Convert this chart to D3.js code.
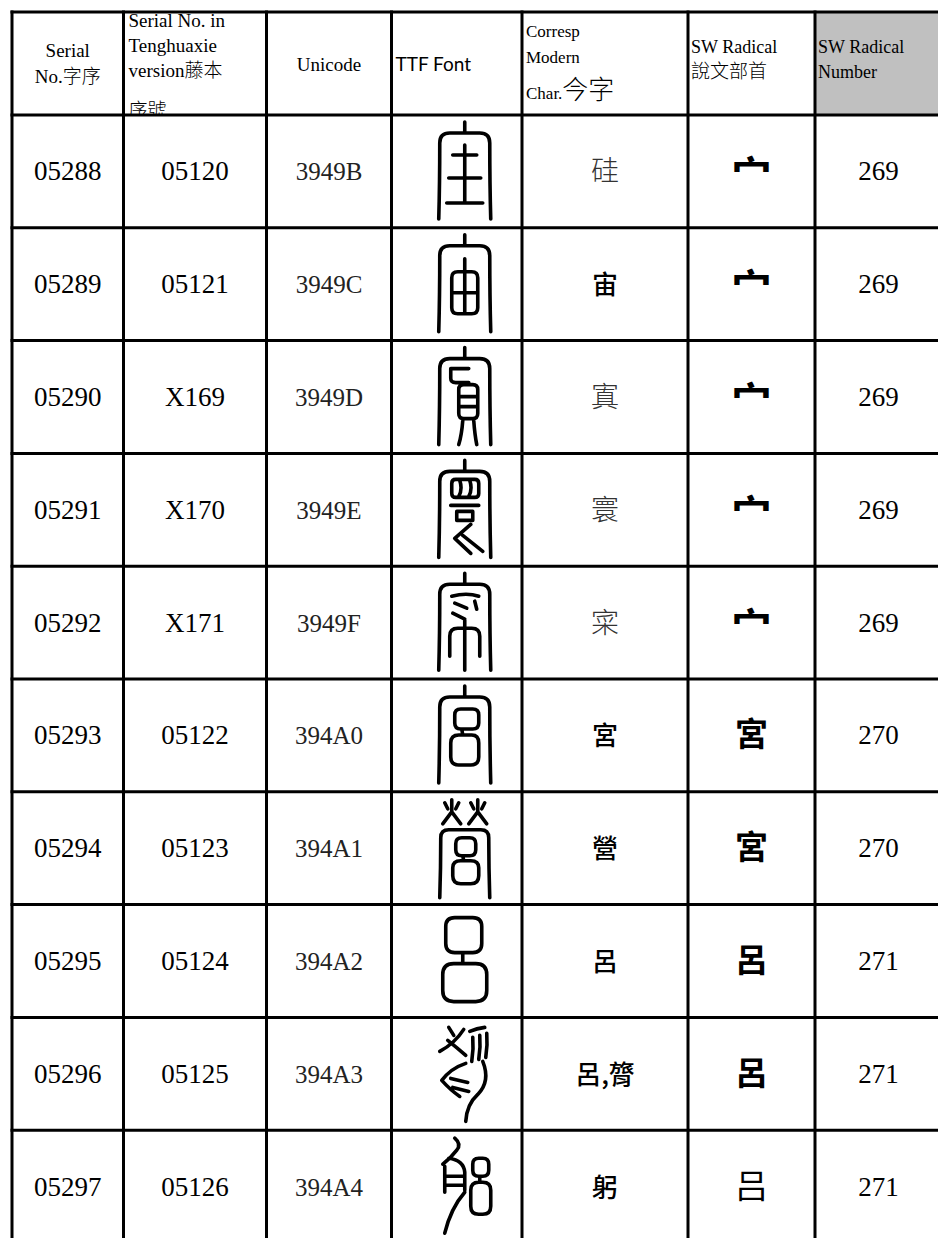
<!DOCTYPE html>
<html>
<head>
<meta charset="utf-8">
<script src="https://cdn.jsdelivr.net/npm/d3@7"></script>
<style>
  html, body { margin: 0; padding: 0; background: #fff; }
  svg { display: block; }
</style>
</head>
<body>
<svg id="chart" width="938" height="1238"></svg>
<script>
// ---------------- DATA ----------------
const serials = ["05288","05289","05290","05291","05292","05293","05294","05295","05296","05297"];
const tengNos = ["05120","05121","X169","X170","X171","05122","05123","05124","05125","05126"];
const unicodes = ["3949B","3949C","3949D","3949E","3949F","394A0","394A1","394A2","394A3","394A4"];
const modernChars = ["硅","宙","寘","寰","寀","宮","營","呂","呂,膂","躬"];
const radicals = ["宀","宀","宀","宀","宀","宮","宮","呂","呂","吕"];
const radicalNumbers = ["269","269","269","269","269","270","270","271","271","271"];

// Seal-script outlines of the TTF font glyphs (local 56 x 100 glyph box), keyed by code point
const ROOF = "M28,1 V11 M2,98 Q3,62 3,22 Q3,12 13,12 H43 Q53,12 53,22 Q53,62 54,98";
const sealGlyphs = {
  "3949B": ROOF + " M16,34 H40 M28,24 V82 M12,57 H44 M10,82 H46",
  "3949C": ROOF + " M15,44 Q15,38 21,38 H35 Q41,38 41,44 V74 Q41,80 35,80 H21 Q15,80 15,74 Z M28,25 V80 M15,59 H41",
  "3949D": ROOF + " M14,22 H32 M14,22 V32 Q14,36 19,36 H32 M22,43 Q22,38 27,38 H36 Q41,38 41,43 V67 Q41,72 36,72 H27 Q22,72 22,67 Z M22,50 H41 M22,60 H41 M26,74 Q25,88 22,98 M37,74 Q38,88 40,98",
  "3949E": ROOF + " M15,24 Q15,20 19,20 H38 Q42,20 42,24 V34 Q42,38 38,38 H19 Q15,38 15,34 Z M23,21 Q26,30 22,37 M33,21 Q36,30 32,37 M14,46 H42 M20,52 H36 V61 H20 Z M34,65 L18,79 L34,94 M26,76 Q36,84 46,92",
  "3949F": ROOF + " M15,24 Q30,20 42,24 M18,31 L30,36 M38,29 L40,37 M16,41 L28,47 M28,48 V98 M13,84 V64 Q13,56 21,56 H35 Q43,56 43,64 V84",
  "394A0": ROOF + " M18,30 Q18,24 24,24 H36 Q42,24 42,30 V38 Q42,44 36,44 H24 Q18,44 18,38 Z M25,44 L26,50 M14,58 Q14,50 22,50 H35 Q42,50 42,58 V72 Q42,80 34,80 H22 Q14,80 14,72 Z",
  "394A1": "M15,2 V14 M8,5 L11,11 M22,5 L19,11 M15,14 L6,26 M15,14 L24,26 M41,2 V14 M34,5 L37,11 M48,5 L45,11 M41,14 L32,26 M41,14 L50,26 M3,100 Q4,70 4,40 Q4,32 12,32 H44 Q52,32 52,40 Q52,70 53,100 M19,46 Q19,40 25,40 H33 Q39,40 39,46 V52 Q39,58 33,58 H25 Q19,58 19,52 Z M26,58 L27,63 M16,70 Q16,63 24,63 H34 Q42,63 42,70 V78 Q42,86 34,86 H24 Q16,86 16,78 Z",
  "394A2": "M9,16 Q9,7 18,7 H36 Q45,7 45,16 V33 Q45,42 36,42 H18 Q9,42 9,33 Z M26,42 V53 M6,64 Q6,53 17,53 H39 Q50,53 50,64 V80 Q50,91 39,91 H17 Q6,91 6,80 Z",
  "394A3": "M12,4 L17,12 M3,28 Q18,20 27,6 M11,17 Q21,25 29,32 M33,8 Q40,5 48,4 M36,14 Q37,26 35,38 M43,12 Q44,24 42,36 M50,10 Q51,22 49,34 M29,40 Q14,45 5,57 Q14,67 23,73 M14,55 L31,59 M16,64 L32,68 M46,38 Q54,58 41,71 Q30,81 29,98",
  "394A4": "M18,2 Q25,8 20,14 Q14,22 6,28 M12,22 Q27,24 28,36 V54 M8,30 V56 M8,40 H28 M8,49 H28 M28,56 Q14,72 8,97 M36,28 Q36,22 42,22 H46 Q52,22 52,28 V34 Q52,40 46,40 H42 Q36,40 36,34 Z M43,40 V46 M34,54 Q34,46 42,46 H46 Q54,46 54,54 V70 Q54,78 46,78 H42 Q34,78 34,70 Z"
};

// ---------------- LAYOUT ----------------
const colEdges = [12, 123.5, 266.5, 391.5, 522, 688, 815, 942];
const tableTop = 12, headerBottom = 115, tableBottom = 1243;
const SERIF = "'Liberation Serif','Times New Roman',serif";
const CJK = "'Noto Sans CJK TC','Noto Sans CJK SC',sans-serif";
const SANS = "Lato,'Liberation Sans',sans-serif";

const svg = d3.select("#chart");
const rows = d3.range(serials.length);
const y = d3.scaleBand().domain(rows).range([headerBottom, tableBottom]).paddingInner(0).paddingOuter(0);
const x = d3.scaleOrdinal().domain(d3.range(colEdges.length)).range(colEdges);
const colCenter = i => (x(i) + x(i + 1)) / 2;

svg.append("rect").attr("width", 938).attr("height", 1238).attr("fill", "#fff");

// gray header cell
svg.append("rect")
  .attr("x", x(6)).attr("y", tableTop)
  .attr("width", x(7) - x(6)).attr("height", headerBottom - tableTop)
  .attr("fill", "#c0c0c0");

// ---------------- HEADER ----------------
const hdr = svg.append("g").attr("class", "header");
svg.append("defs").append("clipPath").attr("id", "clip2")
  .append("rect").attr("x", x(1)).attr("y", tableTop).attr("width", x(2) - x(1)).attr("height", headerBottom - tableTop);

function headerText(lines, xpos, anchor, clip) {
  const t = hdr.append("text").attr("text-anchor", anchor).attr("fill", "#000");
  if (clip) t.attr("clip-path", "url(#" + clip + ")");
  lines.forEach(line => {
    const tl = t.append("tspan").attr("x", xpos).attr("y", line.y);
    line.parts.forEach(p => {
      tl.append("tspan")
        .attr("font-family", p.cjk ? CJK : (p.sans ? SANS : SERIF))
        .attr("font-size", p.size || 19)
        .attr("font-weight", p.cjk ? 300 : 400)
        .text(p.t);
    });
  });
}
headerText([{y: 57, parts: [{t: "Serial"}]}, {y: 83, parts: [{t: "No."}, {t: "字序", cjk: true}]}], colCenter(0), "middle");
headerText([
  {y: 27, parts: [{t: "Serial No. in"}]},
  {y: 52, parts: [{t: "Tenghuaxie"}]},
  {y: 77, parts: [{t: "version"}, {t: "藤本", cjk: true}]},
  {y: 117, parts: [{t: "序號", cjk: true}]}
], x(1) + 5, "start", "clip2");
headerText([{y: 71, parts: [{t: "Unicode"}]}], colCenter(2), "middle");
headerText([{y: 71, parts: [{t: "TTF Font", sans: true, size: 19}]}], x(3) + 4, "start");
headerText([
  {y: 37, parts: [{t: "Corresp", size: 17}]},
  {y: 63, parts: [{t: "Modern", size: 17}]},
  {y: 99, parts: [{t: "Char.", size: 17}, {t: "今字", cjk: true, size: 26}]}
], x(4) + 4, "start");
headerText([{y: 53, parts: [{t: "SW Radical", size: 18}]}, {y: 78, parts: [{t: "說文部首", cjk: true}]}], x(5) + 3, "start");
headerText([{y: 53, parts: [{t: "SW Radical", size: 18}]}, {y: 78, parts: [{t: "Number", size: 18}]}], x(6) + 3, "start");

// ---------------- BODY ----------------
const body = svg.append("g").attr("class", "body");
const rowG = body.selectAll("g.row").data(rows).join("g").attr("class", "row")
  .attr("transform", i => `translate(0,${y(i)})`);
const mid = y.bandwidth() / 2;

rowG.append("text").attr("x", colCenter(0)).attr("y", mid + 9)
  .attr("text-anchor", "middle").attr("font-family", SERIF).attr("font-size", 27)
  .text(i => serials[i]);
rowG.append("text").attr("x", colCenter(1)).attr("y", mid + 9)
  .attr("text-anchor", "middle").attr("font-family", SERIF).attr("font-size", 27)
  .text(i => tengNos[i]);
rowG.append("text").attr("x", colCenter(2)).attr("y", mid + 9)
  .attr("text-anchor", "middle").attr("font-family", SERIF).attr("font-size", 25).attr("fill", "#222")
  .text(i => unicodes[i]);

// seal glyphs
rowG.append("path")
  .attr("transform", `translate(${colCenter(3) + 8 - 28},6)`)
  .attr("d", i => sealGlyphs[unicodes[i]])
  .attr("fill", "none").attr("stroke", "#000").attr("stroke-width", 3.6)
  .attr("stroke-linecap", "round").attr("stroke-linejoin", "round");

const thinModern = new Set(["硅","寘","寰","寀"]);
rowG.append("text").attr("x", colCenter(4)).attr("y", mid + 10)
  .attr("text-anchor", "middle").attr("font-family", CJK)
  .attr("font-size", i => thinModern.has(modernChars[i]) ? 28 : 26)
  .attr("font-weight", i => thinModern.has(modernChars[i]) ? 300 : 500)
  .attr("fill", i => thinModern.has(modernChars[i]) ? "#333" : "#000")
  .text(i => modernChars[i]);

rowG.append("text").attr("x", colCenter(5))
  .attr("y", i => radicals[i] === "宀" ? mid + 19 : mid + 11)
  .attr("text-anchor", "middle").attr("font-family", CJK)
  .attr("font-size", i => radicals[i] === "宀" ? 40 : 33)
  .attr("font-weight", i => radicals[i] === "吕" ? 400 : 700)
  .text(i => radicals[i]);

rowG.append("text").attr("x", colCenter(6)).attr("y", mid + 9)
  .attr("text-anchor", "middle").attr("font-family", SERIF).attr("font-size", 27)
  .text(i => radicalNumbers[i]);

// ---------------- GRID ----------------
const grid = svg.append("g").attr("stroke", "#000").attr("stroke-width", 3);
grid.selectAll("line.v").data(colEdges).join("line").attr("class", "v")
  .attr("x1", d => d).attr("x2", d => d).attr("y1", tableTop - 1.5).attr("y2", tableBottom);
const hLines = [tableTop, headerBottom].concat(rows.map(i => y(i) + y.bandwidth()));
grid.selectAll("line.h").data(hLines).join("line").attr("class", "h")
  .attr("x1", colEdges[0] - 1.5).attr("x2", colEdges[colEdges.length - 1]).attr("y1", d => d).attr("y2", d => d);
</script>
</body>
</html>
